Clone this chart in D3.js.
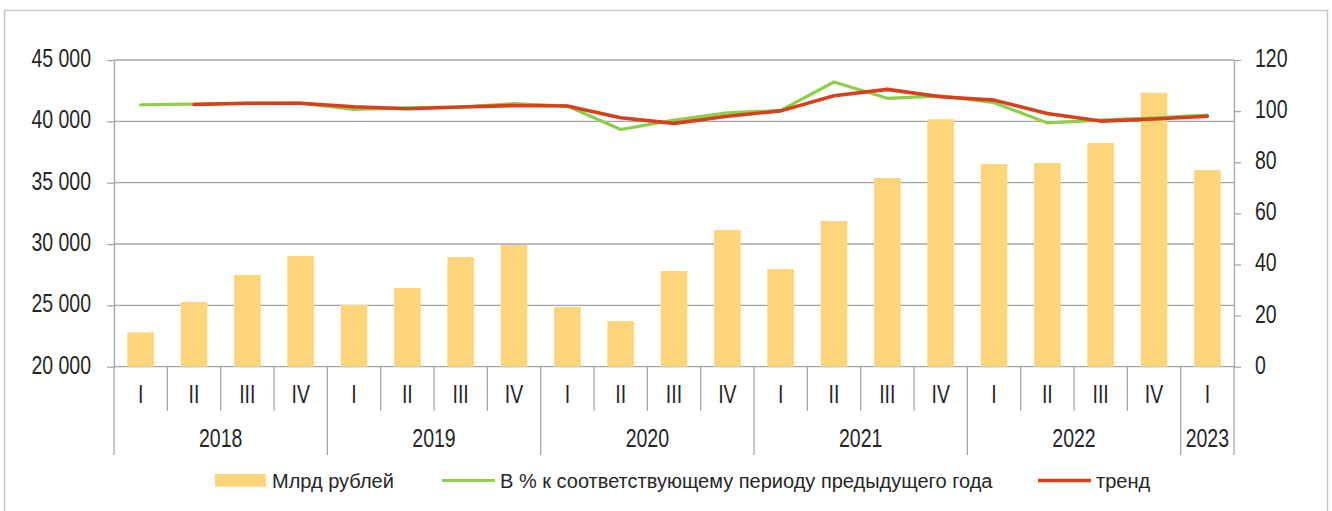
<!DOCTYPE html>
<html>
<head>
<meta charset="utf-8">
<script src="https://cdn.jsdelivr.net/npm/d3@7"></script>
<style>
  body { margin: 0; background: #fff; }
  svg { display: block; }
  text { font-family: "Liberation Sans Narrow", "Arial Narrow", "Liberation Sans", Arial, sans-serif; fill: #262626; }
</style>
</head>
<body>
<svg id="chart" width="1332" height="511"></svg>
<script>
// quarters 2018 I .. 2023 I
const quarters = ['I', 'II', 'III', 'IV', 'I', 'II', 'III', 'IV', 'I', 'II', 'III', 'IV',
  'I', 'II', 'III', 'IV', 'I', 'II', 'III', 'IV', 'I'];
const years = ['2018', '2019', '2020', '2021', '2022', '2023'];
const yearSpans = [4, 4, 4, 4, 4, 1];

// Млрд рублей
const volume = [22800, 25270, 27480, 29020, 25030, 26420, 28940, 29920, 24870, 23730, 27800, 31140,
  27960, 31880, 35390, 40170, 36520, 36600, 38230, 42330, 36030];
// В % к соответствующему периоду предыдущего года
const yoy = [102.5, 102.7, 103.0, 103.1, 100.7, 101.3, 101.6, 102.9, 102.0, 92.8, 96.5, 99.3,
  100.3, 111.4, 105.0, 106.0, 103.3, 95.4, 96.5, 97.4, 98.4];
// тренд (starts at 2018 II)
const trend = [null, 102.6, 103.1, 103.1, 101.7, 100.9, 101.6, 102.2, 102.0, 97.4, 95.2, 98.0,
  100.1, 106.0, 108.5, 105.6, 104.3, 99.1, 96.1, 96.9, 98.0];

const leftTicks = [20000, 25000, 30000, 35000, 40000, 45000];
const rightTicks = [0, 20, 40, 60, 80, 100, 120];

const legendItems = ['Млрд рублей', 'В % к соответствующему периоду предыдущего года', 'тренд'];

const barColor = '#ffd57c';
const yoyColor = '#8ccf4d';
const trendColor = '#d6401d';
const axisColor = '#a6a6a6';

// no narrow font installed, so axis labels get squeezed horizontally
const squeeze = 0.78;
const axisFont = '25px';

const svg = d3.select('#chart');

const plot = { left: 114, right: 1234, top: 60, bottom: 366.7 };

// outer frame
svg.append('rect')
  .attr('x', 4.5).attr('y', 10.5)
  .attr('width', 1323).attr('height', 520)
  .attr('fill', 'none')
  .attr('stroke', '#c8c8c8')
  .attr('stroke-width', 1.5);

const x = d3.scaleBand()
  .domain(d3.range(quarters.length))
  .range([plot.left, plot.right]);

const yL = d3.scaleLinear().domain([20000, 45000]).range([plot.bottom, plot.top]);
const yR = d3.scaleLinear().domain([0, 120]).range([plot.bottom, plot.top]);

const fmt = d3.formatLocale({ decimal: ',', thousands: ' ', grouping: [3], currency: ['', ''] }).format(',d');

function narrow(sel) {
  sel.each(function () {
    const t = d3.select(this);
    const tx = +t.attr('x') || 0;
    const ty = +t.attr('y') || 0;
    t.attr('x', 0).attr('y', 0)
      .attr('transform', `translate(${tx},${ty}) scale(${squeeze},1)`);
  });
}

// gridlines
svg.append('g')
  .selectAll('line')
  .data(leftTicks)
  .enter()
  .append('line')
  .attr('x1', plot.left).attr('x2', plot.right)
  .attr('y1', (d) => yL(d)).attr('y2', (d) => yL(d))
  .attr('stroke', axisColor)
  .attr('stroke-width', 1.3);

// bars
const barW = x.bandwidth() * 0.5;
svg.append('g')
  .selectAll('rect')
  .data(volume)
  .enter()
  .append('rect')
  .attr('x', (d, i) => x(i) + (x.bandwidth() - barW) / 2)
  .attr('y', (d) => yL(d))
  .attr('width', barW)
  .attr('height', (d) => plot.bottom - yL(d))
  .attr('fill', barColor);

// left axis
const gL = svg.append('g')
  .attr('transform', `translate(${plot.left},0)`)
  .call(d3.axisLeft(yL).tickValues(leftTicks).tickSize(7).tickSizeOuter(0).tickPadding(16).tickFormat(fmt));

// right axis
const gR = svg.append('g')
  .attr('transform', `translate(${plot.right},0)`)
  .call(d3.axisRight(yR).tickValues(rightTicks).tickSize(7).tickSizeOuter(0).tickPadding(14));

[gL, gR].forEach((g) => {
  g.selectAll('path, line').attr('stroke', axisColor).attr('stroke-width', 1.3);
  g.selectAll('text')
    .attr('fill', '#262626')
    .attr('dy', '0.26em')
    .style('font-size', axisFont)
    .style('font-family', '"Liberation Sans", Arial, sans-serif')
    .call(narrow);
});

// category axis (two levels)
const catAxis = svg.append('g');
const qBottom = 410.7;
const yBottom = 455;

const yearStarts = [];
let acc = 0;
yearSpans.forEach((n) => { yearStarts.push(acc); acc += n; });

catAxis.selectAll('line.q')
  .data(d3.range(1, quarters.length).filter((i) => !yearStarts.includes(i)))
  .enter()
  .append('line')
  .attr('x1', (i) => x(i)).attr('x2', (i) => x(i))
  .attr('y1', plot.bottom).attr('y2', qBottom)
  .attr('stroke', axisColor).attr('stroke-width', 1.3);

catAxis.selectAll('line.y')
  .data(yearStarts.concat([quarters.length]))
  .enter()
  .append('line')
  .attr('x1', (i) => (i < quarters.length ? x(i) : plot.right))
  .attr('x2', (i) => (i < quarters.length ? x(i) : plot.right))
  .attr('y1', plot.bottom).attr('y2', yBottom)
  .attr('stroke', axisColor).attr('stroke-width', 1.3);

catAxis.selectAll('text.q')
  .data(quarters)
  .enter()
  .append('text')
  .attr('x', (d, i) => x(i) + x.bandwidth() / 2)
  .attr('y', 403)
  .attr('text-anchor', 'middle')
  .style('font-size', axisFont)
  .text((d) => d)
  .call(narrow);

catAxis.selectAll('text.y')
  .data(years)
  .enter()
  .append('text')
  .attr('x', (d, i) => x(yearStarts[i]) + (yearSpans[i] * x.step()) / 2)
  .attr('y', 447)
  .attr('text-anchor', 'middle')
  .style('font-size', axisFont)
  .text((d) => d)
  .call(narrow);

// lines
const line = d3.line()
  .defined((d) => d != null)
  .x((d, i) => x(i) + x.bandwidth() / 2)
  .y((d) => yR(d));

svg.append('path')
  .datum(yoy)
  .attr('d', line)
  .attr('fill', 'none')
  .attr('stroke', yoyColor)
  .attr('stroke-width', 3.2)
  .attr('stroke-linejoin', 'round')
  .attr('stroke-linecap', 'round');

svg.append('path')
  .datum(trend)
  .attr('d', line)
  .attr('fill', 'none')
  .attr('stroke', trendColor)
  .attr('stroke-width', 3.6)
  .attr('stroke-linejoin', 'round')
  .attr('stroke-linecap', 'round');

// legend
const legend = svg.append('g').style('font-size', '20px');
const lx = [215, 442, 1038];
legend.append('rect')
  .attr('x', lx[0]).attr('y', 474)
  .attr('width', 51).attr('height', 12.7)
  .attr('fill', barColor);
legend.append('line')
  .attr('x1', lx[1]).attr('x2', lx[1] + 53)
  .attr('y1', 480.5).attr('y2', 480.5)
  .attr('stroke', yoyColor).attr('stroke-width', 3.2);
legend.append('line')
  .attr('x1', lx[2]).attr('x2', lx[2] + 53)
  .attr('y1', 480.5).attr('y2', 480.5)
  .attr('stroke', trendColor).attr('stroke-width', 3.6);

legend.selectAll('text')
  .data(legendItems)
  .enter()
  .append('text')
  .attr('x', (d, i) => lx[i] + (i === 0 ? 57 : 58))
  .attr('y', 488)
  .text((d) => d);
</script>
</body>
</html>
